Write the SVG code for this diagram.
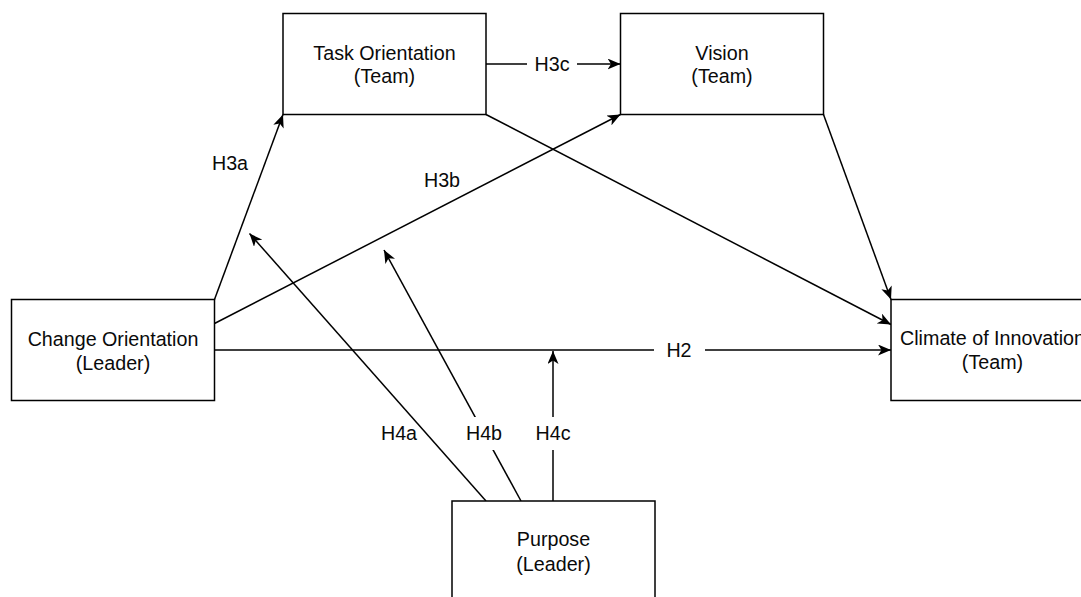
<svg xmlns="http://www.w3.org/2000/svg" width="1081" height="597" viewBox="0 0 1081 597">
  <style>
    .box { fill: #ffffff; stroke: #000000; stroke-width: 1.5; }
    .lbl { font-family: "Liberation Sans", Arial, Helvetica, sans-serif; font-size: 19.7px; fill: #0a0a0a; text-anchor: middle; }
    .edge { fill: none; stroke: #000000; stroke-width: 1.5; }
    .arrow { marker-end: url(#head); }
    .bg { fill: #ffffff; stroke: none; }
  </style>
  <defs>
    <marker id="head" markerUnits="userSpaceOnUse" viewBox="0 0 13 11" refX="13" refY="5.5" markerWidth="13" markerHeight="11" orient="auto">
      <path d="M0,0 L13,5.5 L0,11 L3.5,5.5 Z" fill="#000000"/>
    </marker>
  </defs>
  <rect width="1081" height="597" fill="#ffffff"/>

  <!-- connectors -->
  <g id="connectors">
    <!-- H3a -->
    <line class="edge arrow" x1="214.5" y1="299.5" x2="283" y2="114.5"/>
    <text class="lbl" x="230" y="170">H3a</text>
    <!-- H3b -->
    <line class="edge arrow" x1="214.5" y1="323.5" x2="620.5" y2="114.5"/>
    <text class="lbl" x="442" y="187">H3b</text>
    <!-- H3c -->
    <line class="edge arrow" x1="486" y1="64" x2="620.5" y2="64"/>
    <rect class="bg" x="527" y="52" width="50" height="24"/>
    <text class="lbl" x="552" y="71">H3c</text>
    <!-- Task -> Climate -->
    <line class="edge arrow" x1="486" y1="114.5" x2="891" y2="324.5"/>
    <!-- Vision -> Climate -->
    <line class="edge arrow" x1="823.5" y1="114.5" x2="891" y2="299.5"/>
    <!-- H2 -->
    <line class="edge arrow" x1="214.5" y1="350" x2="891" y2="350"/>
    <rect class="bg" x="654" y="338" width="51" height="24"/>
    <text class="lbl" x="679" y="357">H2</text>
    <!-- H4a -->
    <line class="edge arrow" x1="486" y1="501" x2="249.5" y2="233.5"/>
    <text class="lbl" x="399" y="440">H4a</text>
    <!-- H4b -->
    <line class="edge arrow" x1="521" y1="501" x2="384" y2="250"/>
    <rect class="bg" x="464" y="417" width="40" height="33"/>
    <text class="lbl" x="484" y="440">H4b</text>
    <!-- H4c -->
    <line class="edge arrow" x1="553" y1="501" x2="553" y2="351"/>
    <rect class="bg" x="533" y="417" width="40" height="33"/>
    <text class="lbl" x="553" y="440">H4c</text>
  </g>

  <!-- nodes -->
  <g id="task-orientation">
    <rect class="box" x="283" y="13.5" width="203" height="101"/>
    <text class="lbl" x="384.5" y="59.5">Task Orientation</text>
    <text class="lbl" x="384.5" y="83">(Team)</text>
  </g>
  <g id="vision">
    <rect class="box" x="620.5" y="13.5" width="203" height="101"/>
    <text class="lbl" x="722" y="59.5">Vision</text>
    <text class="lbl" x="722" y="83">(Team)</text>
  </g>
  <g id="change-orientation">
    <rect class="box" x="11.5" y="299.5" width="203" height="101"/>
    <text class="lbl" x="113" y="346">Change Orientation</text>
    <text class="lbl" x="113" y="370">(Leader)</text>
  </g>
  <g id="climate-of-innovation">
    <rect class="box" x="891" y="299.5" width="203" height="101"/>
    <text class="lbl" x="992.5" y="345">Climate of Innovation</text>
    <text class="lbl" x="992.5" y="369">(Team)</text>
  </g>
  <g id="purpose">
    <rect class="box" x="452" y="501" width="203" height="101"/>
    <text class="lbl" x="553.5" y="546">Purpose</text>
    <text class="lbl" x="553.5" y="571">(Leader)</text>
  </g>
</svg>
